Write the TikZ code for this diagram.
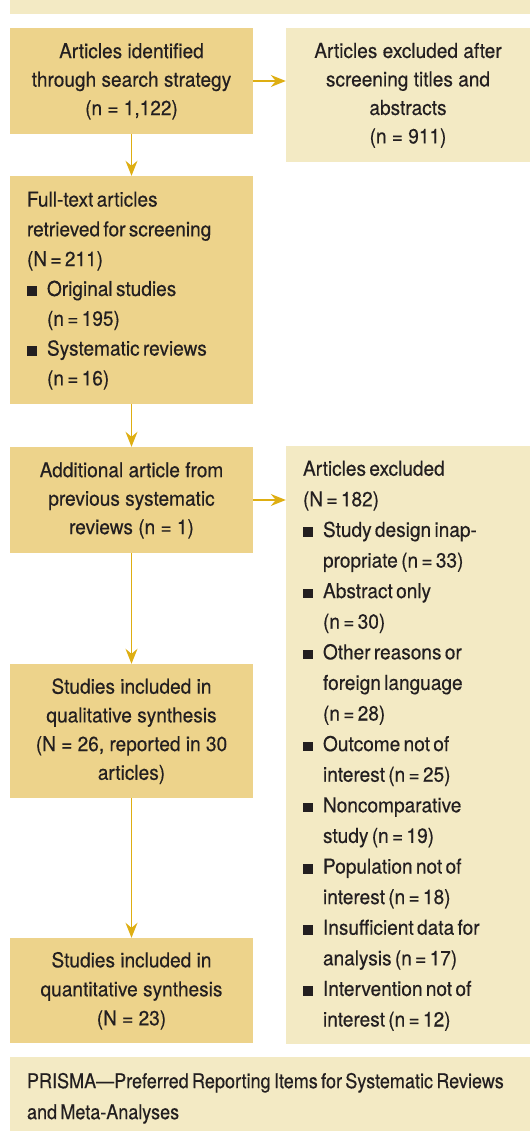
\documentclass[tikz,border=0pt]{standalone}
\usepackage{fontspec}
\setmainfont[FakeStretch=0.93,FakeBold=0.35]{TeX Gyre Heros}
\newfontfamily\notefont[FakeStretch=0.88,FakeBold=0.35]{TeX Gyre Heros}
\usetikzlibrary{arrows.meta}
\definecolor{darkbox}{RGB}{237,211,139}
\definecolor{lightbox}{RGB}{243,234,196}
\definecolor{arrowc}{RGB}{222,174,18}
\definecolor{txt}{RGB}{35,31,32}
\newcommand{\bsq}{\makebox[20pt][l]{\rule{9.5pt}{9.5pt}}}
\newcommand{\ind}{\hspace*{20pt}}
\newcommand{\ls}[1]{\fontsize{20.5}{#1}\selectfont}
\begin{document}
\begin{tikzpicture}[x=1pt,y=-1pt,
  box/.style={inner sep=0pt, text=txt},
  cbox/.style={box, fill=darkbox, minimum width=243pt, align=center},
  lbox/.style={box, inner xsep=17pt, inner ysep=0pt, text width=#1, align=left},
  flow/.style={draw=arrowc, line width=1.3pt, -{Stealth[length=15pt,width=12pt,inset=5pt]}}
]
\useasboundingbox (0,0) rectangle (530,1131);
% title band (text cut off above)
\fill[lightbox] (10,-10) rectangle (530,14);

\node[cbox, minimum height=106pt] (b1) at (131.5,81)
  {\ls{28.5}\begin{tabular}{@{}c@{}}Articles identified\\ through search strategy\\ (n = 1,122)\end{tabular}};
\node[box, fill=lightbox, minimum width=244pt, minimum height=134pt, align=center] (b2) at (408,95)
  {\ls{28.5}\begin{tabular}{@{}c@{}}Articles excluded after\\ screening titles and\\ abstracts\\ (n = 911)\end{tabular}};
\node[lbox=209pt, fill=darkbox, minimum height=228pt] (b3) at (131.5,290)
  {\ls{29.8}\begin{tabular}{@{}l@{}}Full-text articles\\ retrieved for screening\\ (N = 211)\\
   \bsq Original studies\\ \ind (n = 195)\\ \bsq Systematic reviews\\ \ind (n = 16)\end{tabular}};
\node[cbox, minimum height=106pt] (b4) at (131.5,500)
  {\ls{28.5}\begin{tabular}{@{}c@{}}Additional article from\\ previous systematic\\ reviews (n = 1)\end{tabular}};
\node[lbox=210pt, fill=lightbox, minimum height=598pt] (b5) at (408,745)
  {\ls{30.6}\begin{tabular}{@{}l@{}}Articles excluded\\ (N = 182)\\
   \bsq Study design inap-\\ \ind propriate (n = 33)\\
   \bsq Abstract only\\ \ind (n = 30)\\
   \bsq Other reasons or\\ \ind foreign language\\ \ind (n = 28)\\
   \bsq Outcome not of\\ \ind interest (n = 25)\\
   \bsq Noncomparative\\ \ind study (n = 19)\\
   \bsq Population not of\\ \ind interest (n = 18)\\
   \bsq Insufficient data for\\ \ind analysis (n = 17)\\
   \bsq Intervention not of\\ \ind interest (n = 12)\end{tabular}};
\node[cbox, minimum height=134pt] (b6) at (131.5,731)
  {\ls{28.7}\begin{tabular}{@{}c@{}}Studies included in\\ qualitative synthesis\\ (N = 26, reported in 30\\ articles)\end{tabular}};
\node[cbox, minimum height=105pt] (b7) at (131.5,990.5)
  {\ls{29}\begin{tabular}{@{}c@{}}Studies included in\\ quantitative synthesis\\ (N = 23)\end{tabular}};
\node[lbox=486pt, fill=lightbox, minimum height=81pt] (note) at (270,1097.5)
  {\notefont\ls{31}\begin{tabular}{@{}l@{}}PRISMA—Preferred Reporting Items for Systematic Reviews\\ and Meta-Analyses\end{tabular}};

\draw[flow] (b1.east) -- (b1.east -| b2.west);
\draw[flow] (b1.south) -- (b3.north);
\draw[flow] (b3.south) -- (b4.north);
\draw[flow] (b4.east) -- (b4.east -| b5.west);
\draw[flow] (b4.south) -- (b6.north);
\draw[flow] (b6.south) -- (b7.north);
\end{tikzpicture}
\end{document}
